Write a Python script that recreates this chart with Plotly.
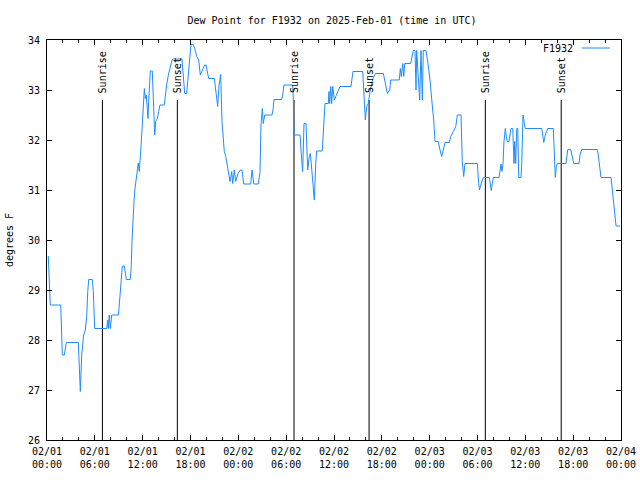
import plotly.graph_objects as go
import pandas as pd

# ---------------- data ----------------
start = pd.Timestamp("2025-02-01 00:00")
end = pd.Timestamp("2025-02-04 00:00")

# hours since 2025-02-01 00:00 UTC
hours = [
    0.16, 0.25, 0.38, 0.41, 1.72, 1.79, 1.88, 1.92, 2.17, 2.30, 2.42, 3.93, 4.01, 4.18, 4.35,
    4.48, 4.60, 4.80, 4.98, 5.11, 5.23, 5.68, 5.81, 5.98, 7.49, 7.61, 7.69, 7.81, 7.94, 8.12,
    8.94, 9.03, 9.16, 9.28, 9.37, 9.45, 9.70, 9.82, 9.95, 10.45, 10.57, 10.66, 10.75, 10.91, 11.04,
    11.20, 11.33, 11.45, 11.58, 11.67, 11.79, 11.95, 12.08, 12.21, 12.33, 12.46, 12.58, 12.67, 12.75, 12.88,
    12.96, 13.21, 13.26, 13.38, 13.51, 13.63, 13.84, 14.01, 14.17, 14.71, 14.84, 15.01, 15.22, 15.52, 15.68,
    15.84, 16.93, 17.27, 17.52, 17.65, 17.81, 17.94, 18.06, 18.35, 18.53, 18.78, 19.03, 19.23, 19.53, 19.78,
    19.95, 20.11, 20.28, 20.99, 21.16, 21.29, 21.41, 21.58, 21.79, 21.95, 22.08, 22.24, 22.42, 22.62, 22.96,
    23.17, 23.29, 23.50, 23.67, 23.96, 24.25, 24.46, 24.67, 25.55, 25.72, 25.93, 26.51, 26.72, 26.84, 27.01,
    27.13, 27.31, 28.22, 28.35, 28.47, 29.44, 29.57, 29.73, 30.82, 30.90, 30.98, 31.74, 31.86, 31.95, 32.07,
    32.15, 32.24, 32.49, 32.57, 32.70, 32.90, 33.03, 33.15, 33.28, 33.40, 33.53, 33.71, 33.83, 34.53, 34.62,
    34.75, 34.87, 35.29, 35.37, 35.46, 35.59, 35.71, 35.84, 36.04, 36.34, 36.59, 36.75, 38.13, 38.26, 38.38,
    39.60, 39.67, 39.80, 39.93, 40.10, 40.30, 40.52, 40.73, 40.89, 41.18, 42.19, 42.36, 42.56, 42.69, 42.99,
    43.11, 44.19, 44.32, 44.44, 44.62, 44.75, 44.87, 45.62, 45.82, 45.95, 46.16, 46.29, 46.37, 46.63, 46.75,
    46.91, 47.08, 47.20, 47.54, 47.79, 48.04, 48.38, 48.51, 48.67, 49.08, 49.30, 49.51, 49.71, 49.93, 50.47,
    50.64, 50.97, 51.27, 51.47, 51.93, 52.09, 52.27, 52.43, 53.98, 54.15, 54.25, 54.44, 54.73, 55.48, 55.61,
    55.73, 55.86, 55.98, 56.70, 56.82, 56.95, 57.07, 57.20, 57.32, 57.49, 57.61, 57.74, 57.95, 58.08, 58.20,
    58.42, 58.49, 58.58, 58.67, 58.79, 58.92, 59.05, 59.17, 59.46, 59.55, 59.62, 59.71, 59.87, 60.00, 62.06,
    62.18, 62.31, 62.51, 62.81, 63.51, 63.60, 63.68, 63.76, 63.89, 64.01, 65.10, 65.19, 65.32, 65.69, 65.89,
    66.07, 66.73, 66.86, 67.07, 69.03, 69.15, 69.28, 69.49, 70.75, 70.91, 71.04, 71.16, 71.29, 71.38, 71.88,
]

# dew point, degrees F
dewpoint = [
    29.68, 29.41, 29.00, 28.70, 28.70, 28.43, 27.95, 27.70, 27.70, 27.87, 27.95, 27.95, 27.70, 26.97, 27.70,
    28.00, 28.10, 28.20, 28.47, 28.97, 29.21, 29.21, 28.97, 28.23, 28.23, 28.40, 28.23, 28.50, 28.23, 28.50,
    28.50, 28.63, 28.87, 29.10, 29.33, 29.48, 29.48, 29.33, 29.21, 29.21, 29.47, 29.97, 30.40, 30.77, 31.03,
    31.23, 31.43, 31.54, 31.37, 31.54, 31.87, 32.30, 32.77, 33.03, 32.83, 32.90, 32.63, 32.43, 32.77, 33.10,
    33.38, 33.38, 33.10, 32.40, 32.10, 32.37, 32.43, 32.57, 32.70, 32.70, 32.90, 33.10, 33.30, 33.50, 33.60,
    33.62, 33.62, 32.93, 32.93, 33.17, 33.50, 33.80, 33.91, 33.91, 33.83, 33.67, 33.60, 33.30, 33.43, 33.50,
    33.50, 33.37, 33.23, 33.23, 33.03, 32.83, 32.67, 33.10, 33.31, 32.37, 31.97, 31.77, 31.67, 31.47, 31.17,
    31.37, 31.13, 31.40, 31.17, 31.33, 31.40, 31.40, 31.12, 31.12, 31.40, 31.12, 31.12, 31.37, 32.30, 32.63,
    32.33, 32.50, 32.50, 32.60, 32.81, 32.81, 32.90, 33.10, 33.10, 32.80, 32.10, 32.10, 31.90, 31.60, 31.37,
    31.87, 32.33, 32.33, 31.87, 31.40, 31.67, 31.73, 31.53, 31.27, 31.07, 30.80, 31.53, 31.78, 31.78, 32.03,
    32.50, 32.73, 32.73, 32.97, 32.73, 33.07, 32.73, 33.07, 32.80, 32.93, 33.00, 33.07, 33.07, 33.23, 33.37,
    33.37, 33.10, 32.67, 32.40, 32.67, 32.73, 32.97, 33.10, 33.23, 33.33, 33.33, 33.20, 33.00, 32.93, 33.00,
    33.20, 33.20, 33.43, 33.27, 33.53, 33.27, 33.53, 33.53, 33.70, 33.79, 33.79, 33.00, 33.79, 33.00, 32.80,
    33.79, 32.80, 33.79, 33.79, 33.53, 33.20, 32.60, 32.40, 31.97, 31.97, 31.80, 31.67, 31.80, 31.95, 31.95,
    32.07, 32.17, 32.27, 32.50, 32.50, 31.57, 31.27, 31.53, 31.53, 31.13, 31.00, 31.12, 31.25, 31.25, 31.10,
    30.99, 31.14, 31.25, 31.25, 31.37, 31.52, 31.37, 31.53, 31.97, 32.23, 32.07, 31.97, 31.97, 32.13, 32.23,
    32.23, 31.97, 31.53, 31.97, 31.53, 32.23, 32.23, 31.25, 31.25, 31.53, 32.23, 32.50, 32.33, 32.23, 32.23,
    32.07, 31.95, 32.10, 32.23, 32.23, 31.97, 31.53, 31.25, 31.47, 31.53, 31.53, 31.70, 31.81, 31.81, 31.63,
    31.53, 31.53, 31.70, 31.81, 31.81, 31.70, 31.53, 31.25, 31.25, 31.01, 30.87, 30.63, 30.39, 30.28, 30.28,
]

sun_labels = ["Sunrise", "Sunset", "Sunrise", "Sunset", "Sunrise", "Sunset"]
sun_times = ["2025-02-01 06:57", "2025-02-01 16:21", "2025-02-02 06:59",
             "2025-02-02 16:24", "2025-02-03 06:59", "2025-02-03 16:30"]
sun_line_top = 32.8
y_min, y_max = 26, 34
series_name = "F1932"
title_text = "Dew Point for F1932 on 2025-Feb-01 (time in UTC)"
y_title = "degrees F"

# ---------------- figure ----------------
FONT = "DejaVu Sans Mono"
LINE_COLOR = "#1e8cff"

times = [start + pd.Timedelta(hours=h) for h in hours]

fig = go.Figure()

# sunrise / sunset markers
sx, sy = [], []
for t in sun_times:
    sx += [t, t, None]
    sy += [y_min, sun_line_top, None]
fig.add_trace(go.Scatter(x=sx, y=sy, mode="lines",
                         line=dict(color="black", width=1),
                         hoverinfo="skip", showlegend=False))

fig.add_trace(go.Scatter(x=times, y=dewpoint, mode="lines", name=series_name,
                         line=dict(color=LINE_COLOR, width=1), showlegend=False))

for lab, t in zip(sun_labels, sun_times):
    fig.add_annotation(x=t, y=sun_line_top, xref="x", yref="y", text=lab,
                       textangle=-90, showarrow=False, xanchor="center",
                       yanchor="bottom", yshift=5,
                       font=dict(family=FONT, size=10, color="black"))

# legend (gnuplot style: text then sample line)
fig.add_annotation(x=0.9205, y=0.98, xref="paper", yref="paper", text=series_name,
                   showarrow=False, xanchor="right", yanchor="middle",
                   font=dict(family=FONT, size=10, color="black"))
fig.add_shape(type="line", xref="paper", yref="paper", x0=0.9315, x1=0.981,
              y0=0.98, y1=0.98, line=dict(color=LINE_COLOR, width=1))

tick_vals = pd.date_range(start, end, freq="6h")
tick_text = [f"{t:%m/%d}<br>{t:%H:%M}" for t in tick_vals]

fig.update_layout(
    width=640, height=480,
    margin=dict(l=47, r=19, t=40, b=40, autoexpand=False),
    paper_bgcolor="white", plot_bgcolor="white",
    font=dict(family=FONT, size=10, color="black"),
    title=dict(text=title_text, x=332 / 640, xanchor="center",
               y=1 - 20 / 480, yanchor="middle",
               font=dict(family=FONT, size=10, color="black")),
    showlegend=False,
    xaxis=dict(type="date", range=[start, end], tickvals=tick_vals, ticktext=tick_text,
               automargin=False, ticklabelstandoff=2,
               showgrid=False, zeroline=False, showline=True, linecolor="black",
               linewidth=1, mirror="ticks", ticks="inside", ticklen=5,
               tickcolor="black", tickfont=dict(family=FONT, size=10),
               minor=dict(dtick=2 * 3600 * 1000, tick0=start, ticks="inside",
                          ticklen=3, tickcolor="black", showgrid=False)),
    yaxis=dict(range=[y_min, y_max], dtick=1, showgrid=False, zeroline=False,
               automargin=False, ticklabelstandoff=4,
               showline=True, linecolor="black", linewidth=1, mirror="ticks",
               ticks="inside", ticklen=5, tickcolor="black",
               tickfont=dict(family=FONT, size=10),
               title=dict(text=y_title, font=dict(family=FONT, size=10), standoff=12)),
)

fig.write_html("out.html")
